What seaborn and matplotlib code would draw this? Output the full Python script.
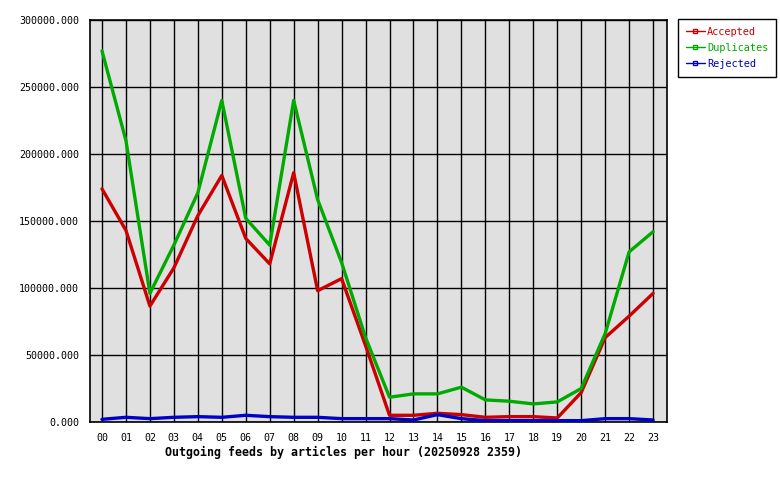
import matplotlib
matplotlib.use("Agg")
import matplotlib.pyplot as plt
import seaborn as sns
import pandas as pd
from matplotlib.lines import Line2D

hours = ["00","01","02","03","04","05","06","07","08","09","10","11",
         "12","13","14","15","16","17","18","19","20","21","22","23"]
accepted = [174000,143000,86500,115000,154000,184000,137000,118000,186000,98000,107000,57000,
            5000,5000,6500,5500,3500,4000,4000,3000,22000,63000,79000,96000]
duplicates = [277000,210000,96000,132000,171000,240000,152000,132000,240000,166000,119000,63000,
              18500,21000,21000,26000,16500,15500,13500,15000,25000,66000,127000,142000]
rejected = [2000,3500,2500,3500,4000,3500,5000,4000,3500,3500,2500,2500,
            2500,1500,5500,2500,1000,1000,1000,1000,1000,2500,2500,1500]
series_names = ["Accepted", "Duplicates", "Rejected"]
colors = {"Accepted": "#cc0000", "Duplicates": "#00aa00", "Rejected": "#0000cc"}
yticks = [0, 50000, 100000, 150000, 200000, 250000, 300000]
title = "Outgoing feeds by articles per hour (20250928 2359)"

rows = []
for name, vals in zip(series_names, [accepted, duplicates, rejected]):
    for i, v in enumerate(vals):
        rows.append({"hour": i, "value": v, "series": name})
df = pd.DataFrame(rows)

sns.set_style("white")
plt.rcParams["font.family"] = ["DejaVu Sans Mono"]
plt.rcParams["text.color"] = "black"
plt.rcParams["xtick.color"] = "black"
plt.rcParams["ytick.color"] = "black"

fig = plt.figure(figsize=(7.8, 4.8), dpi=100)
ax = fig.add_axes([90/780, 58/480, 577/780, 402/480])
ax.set_facecolor("#e0e0e0")

sns.lineplot(data=df, x="hour", y="value", hue="series", palette=colors,
             hue_order=series_names, linewidth=2.4, ax=ax, legend=False, zorder=3)

ax.set_xlim(-0.5, 23.58)
ax.set_ylim(0, 300000)
ax.set_xticks(range(24))
ax.set_xticklabels(hours, fontsize=7.2)
ax.set_yticks(yticks)
ax.set_yticklabels([f"{v:.3f}" for v in yticks], fontsize=7.2)
ax.grid(True, color="black", linewidth=1.0, zorder=1)
ax.set_axisbelow(True)
for s in ax.spines.values():
    s.set_color("black")
    s.set_linewidth(1.2)
ax.tick_params(axis="both", direction="out", length=5, width=1, color="black", pad=3,
               labelcolor="black")
ax.set_xlabel("")
ax.set_ylabel("")
fig.text(165/780, 1 - 452/480, title, fontsize=8.4, fontweight="bold", color="black",
         ha="left", va="center")

handles = [Line2D([0], [0], color=colors[n], linewidth=1, marker="s", markersize=3,
                  markerfacecolor="none", markeredgecolor=colors[n]) for n in series_names]
leg = fig.legend(handles, series_names, loc="upper left",
                 bbox_to_anchor=(678/780, 1 - 19/480), fontsize=7.4,
                 frameon=True, fancybox=False, edgecolor="black", framealpha=1,
                 handlelength=1.9, handletextpad=0.2, borderpad=0.75, labelspacing=0.6,
                 borderaxespad=0)
leg.get_frame().set_linewidth(1.0)
for t, n in zip(leg.get_texts(), series_names):
    t.set_color(colors[n])

fig.savefig("out.png", dpi=100, facecolor="white")
